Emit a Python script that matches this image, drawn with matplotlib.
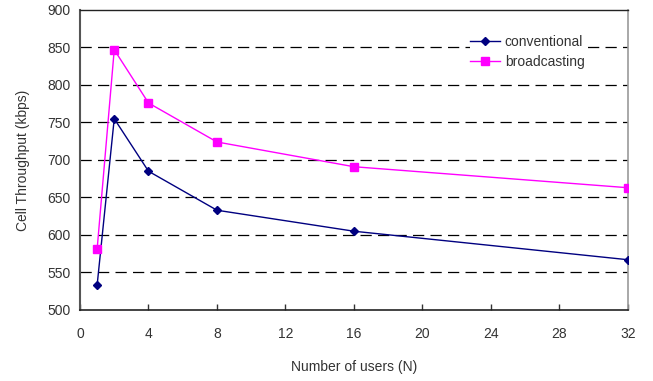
import matplotlib
matplotlib.use("Agg")
import matplotlib.pyplot as plt

users = [1, 2, 4, 8, 16, 32]
conventional = [533, 755, 685, 633, 605, 567]
broadcasting = [581, 847, 776, 724, 691, 663]
x_ticks = [0, 4, 8, 12, 16, 20, 24, 28, 32]
y_ticks = [500, 550, 600, 650, 700, 750, 800, 850, 900]

plt.rcParams['font.family'] = ['Liberation Sans', 'DejaVu Sans']

fig = plt.figure(figsize=(6.53, 3.81), dpi=100)
ax = fig.add_axes([0.1225, 0.1864, 0.8392, 0.7874])

for y in y_ticks[1:-1]:
    ax.axhline(y, color='black', lw=0.9, dashes=(9, 5), zorder=1)

ax.plot(users, conventional, color='#000080', lw=1.0, marker='D', ms=4.5,
        label='conventional', zorder=3)
ax.plot(users, broadcasting, color='#FF00FF', lw=1.0, marker='s', ms=5.5,
        label='broadcasting', zorder=3)

ax.set_xlim(0, 32)
ax.set_ylim(500, 900)
ax.set_xticks(x_ticks)
ax.set_yticks(y_ticks)
ax.tick_params(axis='both', direction='in', length=4, width=1, colors='#333333',
               labelsize=10, labelcolor='#333333')
ax.tick_params(axis='x', pad=12)
ax.tick_params(axis='y', pad=7, length=0)

ax.spines['left'].set_color('#555555')
ax.spines['left'].set_linewidth(1.5)
ax.spines['bottom'].set_color('#222222')
ax.spines['bottom'].set_linewidth(1.2)
ax.spines['top'].set_color('#222222')
ax.spines['top'].set_linewidth(1.0)
ax.spines['right'].set_color('#999999')
ax.spines['right'].set_linewidth(1.2)

ax.set_xlabel('Number of users (N)', fontsize=10, color='#333333', labelpad=14)
ax.set_ylabel('Cell Throughput (kbps)', fontsize=10, color='#333333', labelpad=12)

leg = fig.legend(loc='upper left', bbox_to_anchor=(470 / 653, 1 - 35 / 381),
                 frameon=True, fontsize=10, handlelength=2.15, handletextpad=0.35,
                 labelspacing=0.45, borderpad=0.0, borderaxespad=0.0,
                 edgecolor='none', facecolor='white', framealpha=1)
for t in leg.get_texts():
    t.set_color('#333333')

fig.savefig('out.png', dpi=100)
